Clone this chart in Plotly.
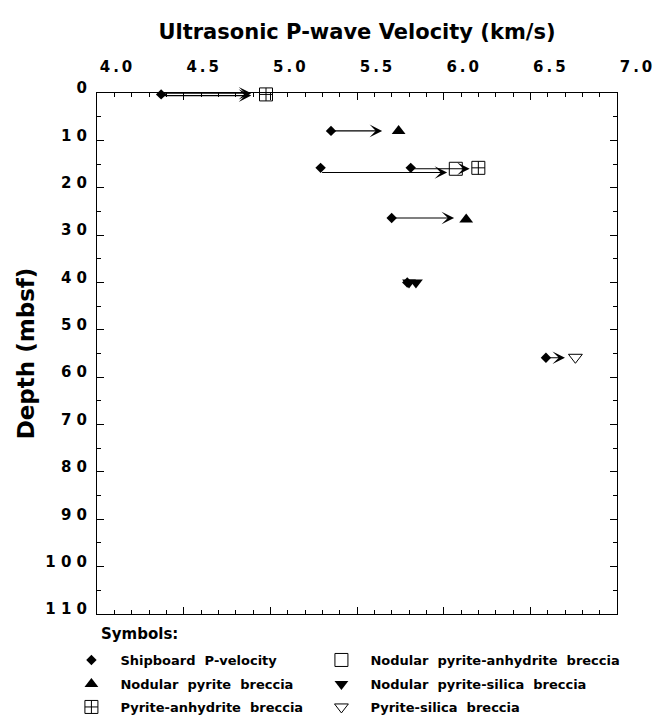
import plotly.graph_objects as go

# ---------------- data ----------------
ship_v = [4.37, 5.35, 5.29, 5.81, 5.70, 5.79, 6.59]
ship_d = [0.3, 8.0, 15.8, 15.8, 26.4, 40.0, 55.9]

npa_v = [6.07]          # Nodular pyrite-anhydrite breccia
npa_d = [16.0]
np_v = [5.74, 6.13]     # Nodular pyrite breccia
np_d = [8.0, 26.7]
nps_v = [5.80, 5.84]    # Nodular pyrite-silica breccia
nps_d = [40.0, 40.0]
pa_v = [4.975, 6.20]    # Pyrite-anhydrite breccia
pa_d = [0.3, 15.8]
ps_v = [6.76]           # Pyrite-silica breccia
ps_d = [55.8]

arrow_from = [4.37, 4.37, 5.35, 5.29, 5.81, 5.70, 6.59]
arrow_to = [4.89, 4.89, 5.645, 6.02, 6.15, 6.06, 6.70]
arrow_d = [0.05, 0.55, 8.0, 16.8, 16.0, 26.4, 55.9]

TS = "\u2009"
x_ticks = [4.0, 4.5, 5.0, 5.5, 6.0, 6.5, 7.0]
x_ticktext = [f"4{TS}.{TS}0", f"4{TS}.{TS}5", f"5{TS}.{TS}0", f"5{TS}.{TS}5",
              f"6{TS}.{TS}0", f"6{TS}.{TS}5", f"7{TS}.{TS}0"]
y_ticks = [0, 10, 20, 30, 40, 50, 60, 70, 80, 90, 100, 110]
y_ticktext = ["0", "1 0", "2 0", "3 0", "4 0", "5 0", "6 0", "7 0", "8 0", "9 0", "1 0 0", "1 1 0"]

FONT = "DejaVu Sans"
NB = "\u00a0"

fig = go.Figure()

def sc(x, y, name, symbol, size, legend, lw=0):
    fig.add_trace(go.Scatter(
        x=x, y=y, mode="markers", name=name, legend=legend,
        marker=dict(symbol=symbol, size=size, color="black",
                    line=dict(color="black", width=lw)),
        cliponaxis=False,
    ))

sc(ship_v, ship_d, f"Shipboard{NB} P-velocity", "diamond", 8, "legend")
sc(npa_v, npa_d, f"Nodular{NB} pyrite-anhydrite{NB} breccia", "square-open", 13, "legend2", 1)
sc(np_v, np_d, f"Nodular{NB} pyrite{NB} breccia", "triangle-up", 12, "legend3")
sc(nps_v, nps_d, f"Nodular{NB} pyrite-silica{NB} breccia", "triangle-down", 12, "legend4")
sc(pa_v, pa_d, f"Pyrite-anhydrite{NB} breccia", "square-cross-open", 13, "legend5", 1)
sc(ps_v, ps_d, f"Pyrite-silica{NB} breccia", "triangle-down-open", 12, "legend6", 1)

# arrows from shipboard value to laboratory value
for x0, x1, d in zip(arrow_from, arrow_to, arrow_d):
    fig.add_annotation(
        x=x1, y=d, ax=x0, ay=d, xref="x", yref="y", axref="x", ayref="y",
        showarrow=True, arrowhead=3, arrowsize=1.9, arrowwidth=1.1,
        arrowcolor="black", text="",
    )

fig.add_annotation(
    text="Symbols:", xref="paper", yref="paper", x=0.004, y=-0.0384,
    xanchor="left", yanchor="middle", showarrow=False,
    font=dict(family=FONT, size=15, color="black", weight="bold"),
)

fig.update_xaxes(
    range=[4.0, 7.0], side="top", tickmode="array", tickvals=x_ticks,
    ticktext=x_ticktext, ticks="inside", ticklen=7, tickwidth=1, tickcolor="black",
    minor=dict(dtick=0.1, ticks="inside", ticklen=4, tickcolor="black", tickwidth=1),
    showline=True, linecolor="black", linewidth=1, mirror="ticks",
    showgrid=False, zeroline=False,
    tickfont=dict(family=FONT, size=15, color="black", weight="bold"),
    ticklabelshift=19, ticklabelstandoff=14,
    title=dict(text="Ultrasonic P-wave Velocity (km/s)",
               font=dict(family=FONT, size=21, color="black", weight="bold"),
               standoff=12),
)
fig.update_yaxes(
    range=[110, 0], tickmode="array", tickvals=y_ticks, ticktext=y_ticktext,
    ticks="inside", ticklen=7, tickwidth=1, tickcolor="black",
    minor=dict(dtick=5, ticks="inside", ticklen=4, tickcolor="black", tickwidth=1),
    showline=True, linecolor="black", linewidth=1, mirror="ticks",
    showgrid=False, zeroline=False,
    tickfont=dict(family=FONT, size=15, color="black", weight="bold"),
    ticklabelstandoff=6, ticklabelshift=5,
    title=dict(text="Depth (mbsf)",
               font=dict(family=FONT, size=23, color="black", weight="bold"),
               standoff=4),
)

leg_font = dict(family=FONT, size=13, color="black", weight="bold")
def leg(x, y):
    return dict(orientation="h", x=x, xanchor="left", y=y, yanchor="middle",
                itemwidth=48, font=leg_font, bgcolor="rgba(0,0,0,0)")

col1, col2 = -0.0665, 0.4143
row1, row2, row3 = -0.0883, -0.1344, -0.1785

fig.update_layout(
    width=656, height=715,
    margin=dict(l=97, r=39, t=93, b=101, autoexpand=False),
    plot_bgcolor="white", paper_bgcolor="white",
    showlegend=True,
    legend=leg(col1, row1),
    legend2=leg(col2, row1),
    legend3=leg(col1, row2),
    legend4=leg(col2, row2),
    legend5=leg(col1, row3),
    legend6=leg(col2, row3),
)

fig.write_html("out.html")
